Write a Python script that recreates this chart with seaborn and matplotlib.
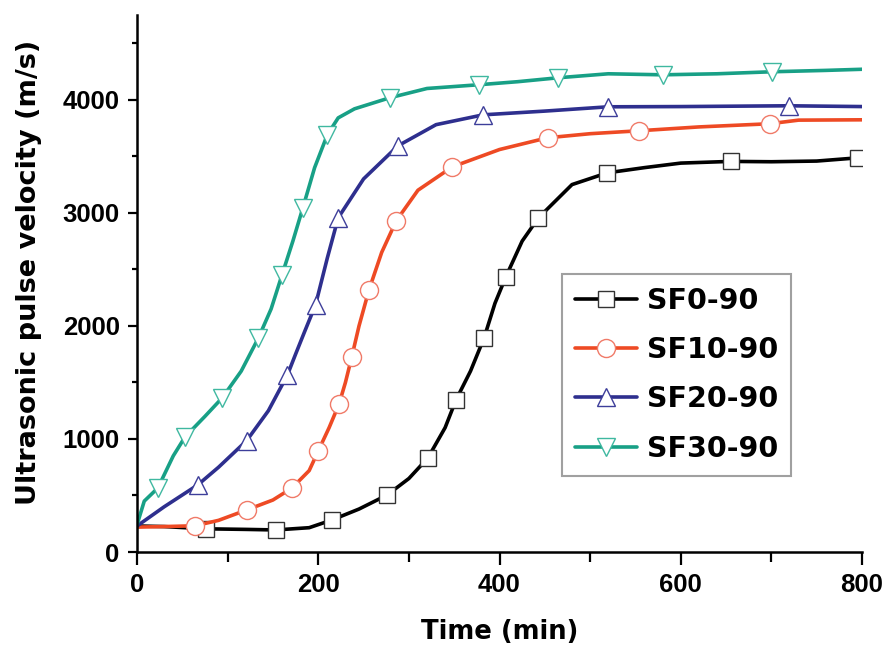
import matplotlib
matplotlib.use("Agg")
import matplotlib.pyplot as plt
import seaborn as sns
import numpy as np
from matplotlib.ticker import MultipleLocator

sns.set_style("ticks")
plt.rcParams['font.family'] = ['DejaVu Sans']
plt.rcParams['font.weight'] = 'bold'
plt.rcParams['text.color'] = 'black'
plt.rcParams['axes.labelcolor'] = 'black'
plt.rcParams['xtick.color'] = 'black'
plt.rcParams['ytick.color'] = 'black'
plt.rcParams['axes.edgecolor'] = 'black'

# ---- data ----
sf0_x = [0, 30, 76, 120, 153, 190, 215, 245, 276, 300, 321, 340, 352, 368, 383, 395, 407,
         425, 443, 480, 519, 560, 600, 655, 700, 750, 796, 800]
sf0_y = [230, 225, 205, 200, 195, 215, 283, 380, 504, 650, 832, 1100, 1345, 1600, 1894, 2200,
         2434, 2750, 2956, 3250, 3354, 3400, 3440, 3455, 3452, 3458, 3487, 3490]
sf0_marks = [76, 153, 215, 276, 321, 352, 383, 407, 443, 519, 655, 796]

sf10_x = [0, 30, 64, 90, 121, 150, 171, 190, 200, 212, 223, 230, 237, 245, 256, 270, 286,
          310, 348, 400, 453, 500, 554, 620, 698, 730, 800]
sf10_y = [220, 225, 232, 280, 372, 460, 566, 720, 894, 1100, 1310, 1500, 1726, 2000, 2319,
          2650, 2929, 3200, 3407, 3560, 3664, 3700, 3726, 3760, 3788, 3820, 3823]
sf10_marks = [64, 121, 171, 200, 223, 237, 256, 286, 348, 453, 554, 698]

sf20_x = [0, 30, 67, 90, 121, 145, 166, 175, 185, 197, 210, 222, 250, 288, 330, 382, 450,
          520, 600, 719, 800]
sf20_y = [230, 400, 593, 750, 985, 1250, 1566, 1750, 1950, 2186, 2600, 2956, 3300, 3593,
          3780, 3867, 3900, 3938, 3940, 3947, 3940]
sf20_marks = [67, 121, 166, 197, 222, 288, 382, 520, 719]

sf30_x = [0, 8, 23, 40, 53, 75, 94, 115, 134, 148, 160, 172, 183, 196, 210, 222, 240, 279,
          320, 377, 420, 465, 520, 580, 640, 701, 760, 800]
sf30_y = [240, 450, 566, 850, 1018, 1200, 1363, 1600, 1894, 2150, 2451, 2750, 3044, 3400,
          3690, 3840, 3920, 4018, 4100, 4133, 4160, 4195, 4230, 4221, 4230, 4248, 4260, 4270]
sf30_marks = [23, 53, 94, 134, 160, 183, 210, 279, 377, 465, 580, 701]

labels = ["SF0-90", "SF10-90", "SF20-90", "SF30-90"]
x_ticks = [0, 200, 400, 600, 800]
y_ticks = [0, 1000, 2000, 3000, 4000]

series = [
    (sf0_x, sf0_y, sf0_marks, "#000000", "s", "#333333", 11),
    (sf10_x, sf10_y, sf10_marks, "#ee4a24", "o", "#f07a68", 13),
    (sf20_x, sf20_y, sf20_marks, "#2e2f8e", "^", "#3d3e9a", 13),
    (sf30_x, sf30_y, sf30_marks, "#18a086", "v", "#3fb8a0", 13),
]

fig = plt.figure(figsize=(8.82, 6.45), dpi=100)
ax = fig.add_axes([137 / 882, 1 - 552 / 645, 725 / 882, 537 / 645])

for (xs, ys, marks, col, mk, mec, ms), lab in zip(series, labels):
    idx = [xs.index(m) for m in marks]
    sns.lineplot(x=xs, y=ys, ax=ax, color=col, lw=2.6, marker=mk, markevery=idx,
                 markersize=ms, markerfacecolor="white", markeredgecolor=mec,
                 markeredgewidth=1.0, label=lab, sort=False, estimator=None)

ax.set_xlim(0, 800)
ax.set_ylim(0, 4750)
ax.set_xticks(x_ticks)
ax.set_yticks(y_ticks)
ax.xaxis.set_minor_locator(MultipleLocator(100))
ax.yaxis.set_minor_locator(MultipleLocator(500))
ax.tick_params(axis='x', which='major', direction='out', length=9, width=1.6, pad=6)
ax.tick_params(axis='x', which='minor', direction='out', length=7, width=1.6)
ax.tick_params(axis='y', which='major', direction='out', length=6.5, width=1.6, pad=6)
ax.tick_params(axis='y', which='minor', direction='out', length=3.5, width=1.6)
for lbl in ax.get_xticklabels() + ax.get_yticklabels():
    lbl.set_fontweight('bold')
    lbl.set_fontfamily(['Liberation Sans', 'DejaVu Sans'])
    lbl.set_fontsize(18.5)
sns.despine(ax=ax)
for s in ['left', 'bottom']:
    ax.spines[s].set_linewidth(1.8)

ax.set_xlabel("Time (min)", fontsize=18.6, fontweight='bold')
ax.set_ylabel("Ultrasonic pulse velocity (m/s)", fontsize=19.5, fontweight='bold')
ax.xaxis.set_label_coords(0.5, -0.125)
ax.yaxis.set_label_coords(-0.131, 0.521)

leg = ax.legend(loc='upper left', bbox_to_anchor=(0.586, 0.518), fancybox=False,
                frameon=True, edgecolor='#888888', handlelength=2.2, labelspacing=0.75,
                handletextpad=0.35, borderpad=0.45, borderaxespad=0,
                prop={'size': 20.5, 'weight': 'bold'})
leg.get_frame().set_linewidth(1.5)

fig.savefig("out.png", dpi=100)
